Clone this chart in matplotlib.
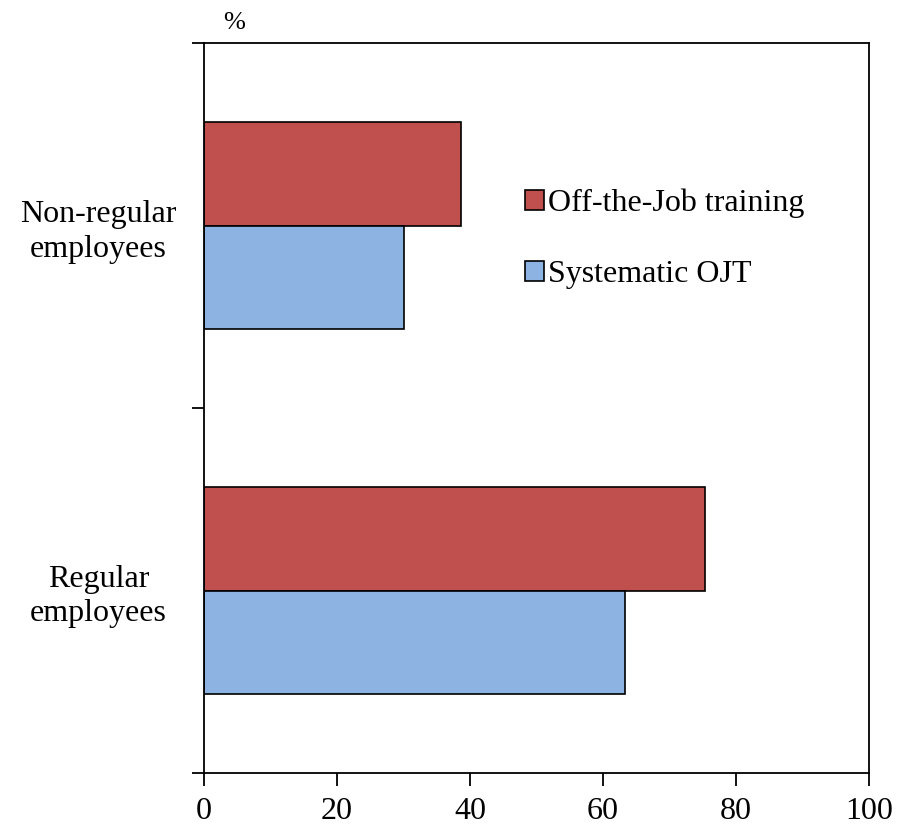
import matplotlib.pyplot as plt
import numpy as np

categories = ['Regular\nemployees', 'Non-regular\nemployees']
off_jt = [75.3, 38.6]
systematic_ojt = [63.3, 30.1]
series_names = ['Off-the-Job training', 'Systematic OJT']

plt.rcParams['font.family'] = ['Liberation Serif', 'DejaVu Serif']

fig = plt.figure(figsize=(9.08, 8.25), dpi=100)
ax = fig.add_axes([204 / 908, 52 / 825, 665 / 908, 730 / 825])

y = np.arange(len(categories))
h = 0.284
ax.barh(y + h / 2, off_jt, height=h, color='#c0504d', edgecolor='black',
        linewidth=1.2, label=series_names[0])
ax.barh(y - h / 2, systematic_ojt, height=h, color='#8db3e2', edgecolor='black',
        linewidth=1.2, label=series_names[1])

ax.set_xlim(0, 100)
ax.set_ylim(-0.5, len(categories) - 0.5)
ax.set_xticks(np.arange(0, 101, 20))
ax.tick_params(axis='x', labelsize=23, direction='out', length=9, width=1.3, pad=8)

# category boundaries get the ticks, labels sit between them
ax.set_yticks(np.arange(-0.5, len(categories), 1.0))
ax.set_yticklabels([])
ax.set_yticks(y, minor=True)
ax.set_yticklabels(categories, minor=True, fontsize=23, ha='center',
                   linespacing=1.25)
ax.tick_params(axis='y', which='major', direction='out', length=9, width=1.3)
ax.tick_params(axis='y', which='minor', length=0, pad=76)

for s in ax.spines.values():
    s.set_linewidth(1.3)

ax.text(0.029, 1.012, '%', transform=ax.transAxes, fontsize=19,
        ha='left', va='bottom')

ax.legend(loc='upper left', bbox_to_anchor=(0.483, 0.80), frameon=False,
          fontsize=23, handlelength=0.6, handleheight=0.6, handletextpad=0.1,
          labelspacing=1.3, borderaxespad=0, borderpad=0)

fig.savefig('out.png', dpi=100)
